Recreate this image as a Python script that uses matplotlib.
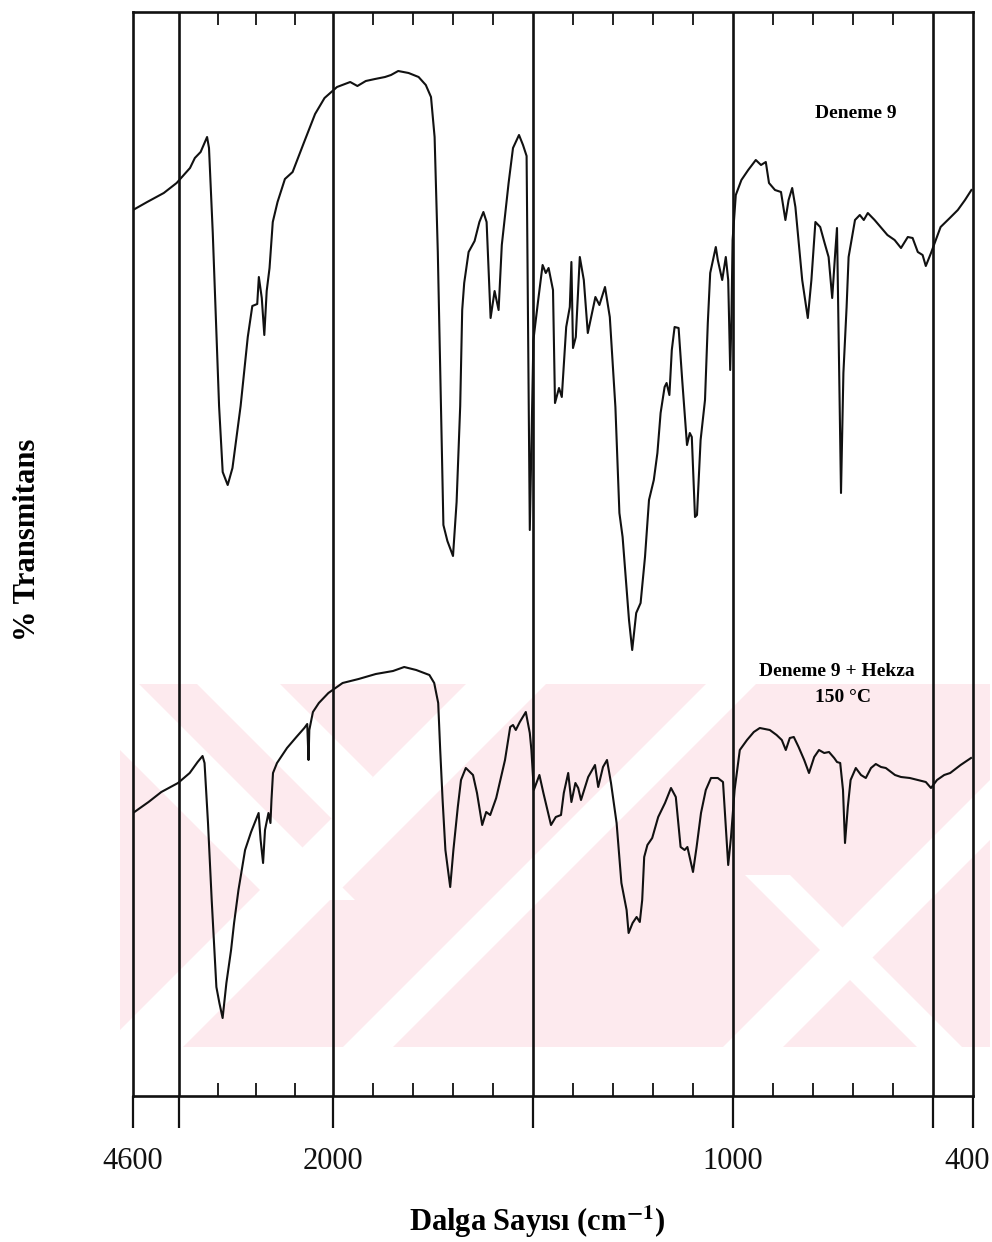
import numpy as np
import matplotlib
matplotlib.use("Agg")
import matplotlib.pyplot as plt
from matplotlib.patches import Polygon, Rectangle
from matplotlib.transforms import ScaledTranslation

plt.rcParams['font.family'] = ['Liberation Serif', 'DejaVu Serif']
plt.rcParams['mathtext.fontset'] = 'stix'

# --- spectrum 1: Deneme 9 (wavenumber cm-1, % T in arbitrary units) ---
wn1 = [4600, 4416, 4200, 4033, 3859, 3796, 3721, 3637, 3612, 3563, 3481, 3434,
       3369, 3307, 3201, 3108, 3049, 2985, 2964, 2926, 2893, 2862, 2825, 2783,
       2721, 2625, 2525, 2380, 2233, 2110, 1990, 1957, 1939, 1918, 1895, 1870,
       1855, 1837, 1811, 1786, 1768, 1755, 1746, 1738, 1730, 1724, 1714, 1700,
       1691, 1682, 1677, 1672, 1661, 1646, 1634, 1624, 1616, 1606, 1596, 1586,
       1578, 1561, 1550, 1535, 1525, 1516, 1512, 1508, 1499, 1487, 1476, 1468,
       1461, 1450, 1445, 1435, 1428, 1417, 1408, 1404, 1400, 1393, 1383, 1373,
       1363, 1344, 1334, 1320, 1308, 1294, 1284, 1276, 1260, 1252, 1242, 1231,
       1220, 1210, 1198, 1189, 1181, 1171, 1166, 1159, 1153, 1146, 1136, 1127,
       1115, 1108, 1103, 1095, 1090, 1081, 1070, 1063, 1057, 1043, 1038, 1027,
       1018, 1012, 1007, 1004, 1001, 993, 979, 962, 943, 930, 918, 910,
       895, 880, 869, 861, 852, 844, 827, 813, 804, 794, 782, 771,
       761, 752, 744, 740, 730, 724, 716, 711, 695, 683, 673, 663,
       646, 631, 614, 596, 580, 563, 551, 538, 526, 518, 505, 481,
       458, 438, 420, 404]
t1 = [88.6, 89.4, 90.3, 91.3, 92.8, 93.8, 94.4, 95.9, 94.8, 86.3, 69.0, 62.4,
      61.1, 62.8, 69.0, 75.9, 79.0, 79.2, 81.9, 79.8, 76.1, 80.5, 82.8, 87.4,
      89.4, 91.7, 92.4, 95.3, 98.2, 99.8, 100.9, 101.4, 101.0, 101.5, 101.7, 101.9,
      102.1, 102.5, 102.3, 101.9, 101.1, 99.9, 95.9, 84.4, 69.0, 57.1, 55.5, 54.0,
      59.4, 69.0, 78.6, 81.3, 84.4, 85.5, 87.4, 88.4, 87.4, 77.8, 80.5, 78.6,
      85.1, 91.3, 94.8, 96.1, 95.1, 94.0, 75.0, 56.6, 75.6, 79.6, 83.1, 82.3,
      82.8, 80.6, 69.3, 70.8, 69.9, 76.9, 78.9, 83.4, 74.8, 75.9, 83.9, 81.6,
      76.3, 79.9, 79.1, 80.9, 77.9, 68.9, 58.3, 55.9, 47.6, 44.6, 48.3, 49.3,
      53.9, 59.6, 61.6, 64.3, 68.3, 70.9, 71.3, 70.1, 74.6, 76.9, 76.8, 71.6,
      65.1, 66.3, 65.9, 57.9, 58.1, 65.6, 69.6, 77.3, 82.3, 84.9, 83.6, 81.6,
      83.9, 81.6, 72.6, 77.6, 85.6, 90.1, 91.6, 92.6, 93.6, 93.1, 93.4, 91.3,
      90.6, 90.4, 87.6, 89.6, 90.8, 88.9, 81.6, 77.8, 81.6, 87.4, 86.9, 85.3,
      83.9, 79.8, 84.6, 86.8, 60.3, 72.3, 78.9, 83.9, 87.6, 88.1, 87.6, 88.3,
      87.6, 86.9, 86.1, 85.6, 84.8, 85.9, 85.8, 84.4, 84.1, 83.0, 84.3, 86.9,
      87.8, 88.6, 89.6, 90.6]

# --- spectrum 2: Deneme 9 + Hekza 150 C ---
wn2 = [4600, 4398, 4232, 4015, 3863, 3760, 3696, 3670, 3625, 3577, 3516, 3477,
       3435, 3386, 3325, 3286, 3229, 3143, 3065, 2967, 2941, 2909, 2884, 2839,
       2813, 2800, 2780, 2728, 2598, 2476, 2373, 2335, 2318, 2308, 2261, 2184,
       2060, 1976, 1936, 1893, 1850, 1822, 1792, 1759, 1747, 1737, 1732, 1726,
       1719, 1707, 1699, 1688, 1680, 1668, 1650, 1640, 1627, 1617, 1607, 1592,
       1570, 1557, 1550, 1543, 1533, 1518, 1508, 1504, 1498, 1484, 1474, 1455,
       1443, 1430, 1423, 1412, 1404, 1394, 1387, 1380, 1362, 1345, 1337, 1325,
       1315, 1305, 1291, 1279, 1266, 1261, 1251, 1241, 1233, 1227, 1222, 1214,
       1202, 1187, 1170, 1155, 1143, 1131, 1121, 1114, 1100, 1091, 1080, 1068,
       1055, 1038, 1025, 1017, 1012, 1005, 996, 983, 965, 948, 933, 908,
       891, 878, 868, 858, 848, 836, 822, 810, 797, 785, 772, 760,
       747, 740, 732, 725, 720, 713, 706, 693, 680, 668, 655, 643,
       630, 618, 595, 580, 558, 538, 518, 505, 490, 472, 457, 431,
       405]
t2 = [28.3, 29.4, 30.4, 31.3, 32.3, 33.4, 34.0, 33.3, 27.3, 19.6, 10.9, 9.3,
      7.8, 11.3, 14.6, 17.3, 20.6, 24.6, 26.4, 28.3, 25.6, 23.3, 26.6, 28.3,
      27.3, 29.6, 32.3, 33.3, 34.8, 35.9, 36.8, 37.2, 33.6, 36.6, 38.4, 39.3,
      40.3, 41.3, 41.7, 42.2, 42.5, 42.9, 42.6, 42.1, 41.3, 39.3, 34.6, 29.6,
      24.6, 20.9, 24.6, 28.9, 31.6, 32.8, 32.1, 30.3, 27.1, 28.4, 28.1, 29.8,
      33.6, 36.9, 37.1, 36.6, 37.4, 38.4, 36.3, 34.6, 30.6, 32.1, 30.3, 27.1,
      27.9, 28.1, 30.3, 32.3, 29.4, 31.3, 30.8, 29.6, 31.9, 33.1, 30.9, 32.9,
      33.6, 31.3, 27.3, 21.3, 18.6, 16.3, 17.3, 17.9, 17.4, 19.6, 23.9, 25.1,
      25.8, 27.9, 29.3, 30.8, 29.9, 24.9, 24.6, 24.9, 22.4, 24.9, 28.3, 30.6,
      31.8, 31.8, 31.4, 26.3, 23.1, 25.9, 30.6, 34.6, 35.6, 36.4, 36.8, 36.6,
      36.1, 35.6, 34.6, 35.8, 35.9, 34.9, 33.6, 32.3, 33.9, 34.6, 34.3, 34.4,
      33.8, 33.4, 33.3, 30.6, 25.3, 28.9, 31.6, 32.8, 32.1, 31.8, 32.8, 33.2,
      32.9, 32.8, 32.1, 31.9, 31.8, 31.6, 31.4, 30.8, 31.6, 32.1, 32.3, 33.1,
      33.8]

grid_lines = [4000, 2000, 1500, 1000, 500]
major_ticks = [4600, 4000, 2000, 1500, 1000, 500, 400]
major_labels = ['4600', '', '2000', '', '1000', '', '400']
minor_ticks = [3500, 3000, 2500, 1900, 1800, 1700, 1600, 1400, 1300, 1200, 1100,
               900, 800, 700, 600]

# half-expanded scale above 2000 cm-1
K = 200 / 2600 / 0.4


def fwd(w):
    w = np.asarray(w, dtype=float)
    return np.where(w > 2000, 2000 + (w - 2000) * K, w)


def inv(u):
    u = np.asarray(u, dtype=float)
    return np.where(u > 2000, 2000 + (u - 2000) / K, u)


W, H = 992, 1242
fig = plt.figure(figsize=(W / 100, H / 100), dpi=100)
ax = fig.add_axes([133 / W, 1 - 1096 / H, 840 / W, 1084 / H])
ax.patch.set_alpha(0)


def fp(pts):
    return [(x / W, 1 - y / H) for x, y in pts]


# watermark in the background (pink band with white diagonal gaps)
wm_color = '#fdeaee'
band = Rectangle((120 / W, 1 - 1047 / H), 870 / W, 363 / H, transform=fig.transFigure,
                 facecolor=wm_color, edgecolor='none', zorder=-3)
fig.add_artist(band)


def back_band(c1, c2, a, b):
    # px + py = const
    return [(c1 - a, a), (c2 - a, a), (c2 - b, b), (c1 - b, b)]


def fwd_band(c1, c2, a, b):
    # px - py = const
    return [(a + c1, a), (a + c2, a), (b + c2, b), (b + c1, b)]


gaps = [fwd_band(-630, -545, 684, 900),
        [(197, 684), (280, 684), (373, 777), (335, 822)],
        back_band(1150, 1230, 684, 1047),
        back_band(1390, 1440, 684, 1047),
        back_band(1770, 1830, 684, 1047),
        fwd_band(-130, -85, 875, 1047)]
for g in gaps:
    p = Polygon(fp(g), closed=True, transform=fig.transFigure, facecolor='white',
                edgecolor='none', zorder=-2)
    fig.add_artist(p)
    p.set_clip_path(band)

ax.set_xscale('function', functions=(fwd, inv))
ax.set_xlim(4600, 400)
ax.set_ylim(0, 108.4)

for w in grid_lines:
    ax.axvline(w, color='#111111', lw=1.9)

ax.plot(wn1, t1, color='#111111', lw=1.5)
ax.plot(wn2, t2, color='#111111', lw=1.5)

for s in ax.spines.values():
    s.set_linewidth(1.9)
    s.set_color('#111111')

ax.set_xticks(major_ticks)
ax.set_xticklabels(major_labels)
ax.set_xticks(minor_ticks, minor=True)
ax.tick_params(axis='x', which='major', direction='out', length=23, width=1.6,
               pad=14, labelsize=22, top=False, colors='#111111')
ax.tick_params(axis='x', which='minor', direction='in', length=9.5, width=1.3,
               top=True, bottom=True, colors='#111111')
ax.set_yticks([])

# keep the "400" label inside the canvas
last = ax.xaxis.get_major_ticks()[-1].label1
last.set_transform(last.get_transform() + ScaledTranslation(-0.06, 0, fig.dpi_scale_trans))

ax.set_xlabel(r'Dalga Sayısı (cm$^{\mathbf{-1}}$)', fontsize=22, fontweight='bold', va='center')
ax.xaxis.set_label_coords((537 - 133) / 840, -(1222 - 1096) / 1084)
ax.set_ylabel('% Transmitans', fontsize=22, fontweight='bold', va='center')
ax.yaxis.set_label_coords((28 - 133) / 840, (1096 - 540) / 1084)

fig.text(856 / W, 1 - 113 / H, 'Deneme 9', ha='center', va='center',
         fontsize=14, fontweight='bold')
fig.text(837 / W, 1 - 672 / H, 'Deneme 9 + Hekza', ha='center', va='center',
         fontsize=14, fontweight='bold')
fig.text(843 / W, 1 - 697 / H, '150 °C', ha='center', va='center',
         fontsize=14, fontweight='bold')

fig.savefig('out.png', dpi=100)
